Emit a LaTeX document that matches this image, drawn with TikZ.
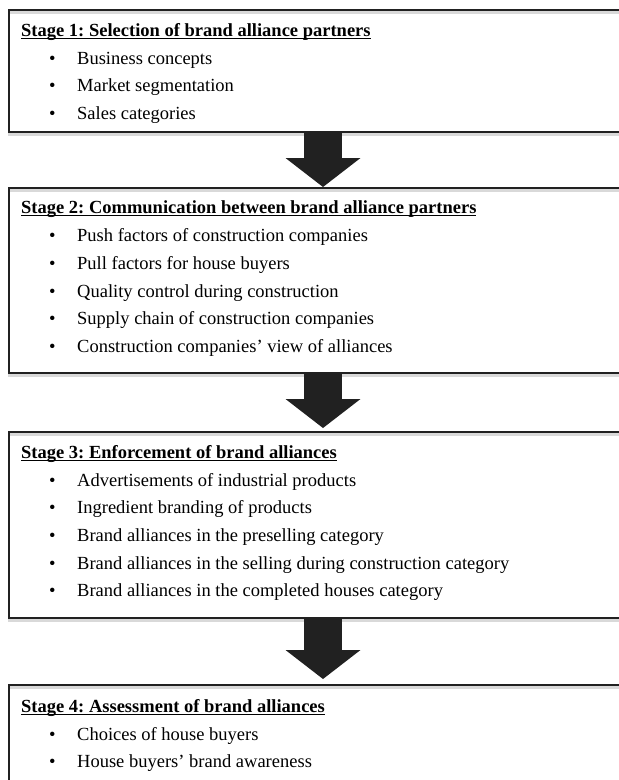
\documentclass[tikz,border=0pt]{standalone}
\usepackage{fontspec}
\setmainfont{Liberation Serif}
\usetikzlibrary{arrows.meta,shadows}
\frenchspacing

\tikzset{
  stagebox/.style={draw=black!87, line width=2.4pt, inner sep=0pt, outer sep=0pt,
    anchor=north west, minimum width=628pt,
    drop shadow={shadow xshift=0pt, shadow yshift=-2.4pt, fill=none, draw=black!15,
      opacity=1, line width=2.2pt}},
  stagetitle/.style={anchor=base west, inner sep=0pt,
    font=\fontsize{18.5pt}{22pt}\selectfont\bfseries},
  stageitem/.style={anchor=base west, inner sep=0pt},
  stagearrow/.style={draw=black!87, line width=38pt,
    -{Triangle[width=75pt,length=29pt,line width=0pt]}}
}
\newcommand{\stagebullet}{\llap{\textbullet\hspace{21.5pt}}}
\newcommand{\stageul}[1]{\setbox0\hbox{#1}\rlap{\rule[-3.1pt]{\wd0}{1.6pt}}\box0}

\begin{document}
\begin{tikzpicture}[x=1pt, y=-1pt, font=\fontsize{18.5pt}{22pt}\selectfont]
        \useasboundingbox (0,0) rectangle (619,780);
        \clip (0,0) rectangle (619,780);

        \def\tx{21}
        \def\ix{77}

        % boxes
        \node[stagebox, minimum height=122pt] (s1) at (9,10) {};
        \node[stagebox, minimum height=185pt] (s2) at (9,188) {};
        \node[stagebox, minimum height=186pt] (s3) at (9,432) {};
        \node[stagebox, minimum height=120pt] (s4) at (9,685) {};

        % stage 1
        \node[stagetitle] (t1) at (\tx,36) {\stageul{Stage 1: Selection of brand alliance partners}};
        \node[stageitem] (t1a) at (\ix,64) {\stagebullet Business concepts};
        \node[stageitem] (t1b) at (\ix,91.5) {\stagebullet Market segmentation};
        \node[stageitem] (t1c) at (\ix,119) {\stagebullet Sales categories};

        % stage 2
        \node[stagetitle] (t2) at (\tx,213) {\stageul{Stage 2: Communication between brand alliance partners}};
        \node[stageitem] (t2a) at (\ix,241) {\stagebullet Push factors of construction companies};
        \node[stageitem] (t2b) at (\ix,269) {\stagebullet Pull factors for house buyers};
        \node[stageitem] (t2c) at (\ix,297) {\stagebullet Quality control during construction};
        \node[stageitem] (t2d) at (\ix,324) {\stagebullet Supply chain of construction companies};
        \node[stageitem] (t2e) at (\ix,352) {\stagebullet Construction companies’ view of alliances};

        % stage 3
        \node[stagetitle] (t3) at (\tx,458) {\stageul{Stage 3: Enforcement of brand alliances}};
        \node[stageitem] (t3a) at (\ix,486) {\stagebullet Advertisements of industrial products};
        \node[stageitem] (t3b) at (\ix,513.5) {\stagebullet Ingredient branding of products};
        \node[stageitem] (t3c) at (\ix,541) {\stagebullet Brand alliances in the preselling category};
        \node[stageitem] (t3d) at (\ix,569) {\stagebullet Brand alliances in the selling during construction category};
        \node[stageitem] (t3e) at (\ix,596.5) {\stagebullet Brand alliances in the completed houses category};

        % stage 4
        \node[stagetitle] (t4) at (\tx,712) {\stageul{Stage 4: Assessment of brand alliances}};
        \node[stageitem] (t4a) at (\ix,740) {\stagebullet Choices of house buyers};
        \node[stageitem] (t4b) at (\ix,767) {\stagebullet House buyers’ brand awareness};

        % arrows
        \draw[stagearrow, shorten >=1pt] (s1.south) -- (s2.north);
        \draw[stagearrow, shorten >=4pt] (s2.south) -- (s3.north);
        \draw[stagearrow, shorten >=6pt] (s3.south) -- (s4.north);
    \end{tikzpicture}
\end{document}
